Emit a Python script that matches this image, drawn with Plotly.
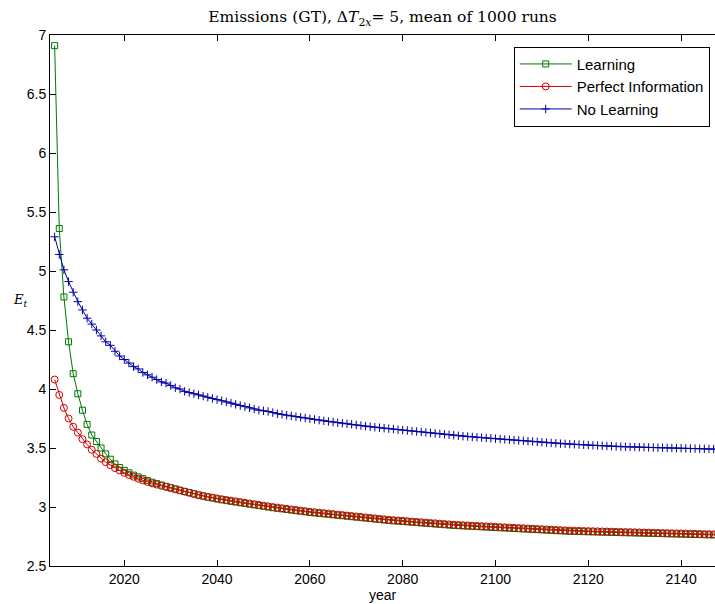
import plotly.graph_objects as go

years = list(range(2005, 2149))

learning = [
    6.91, 5.36, 4.78, 4.40, 4.13,
    3.96, 3.82, 3.70, 3.61, 3.555, 3.50, 3.45, 3.405, 3.365, 3.335,
    3.31, 3.29, 3.27, 3.255, 3.24, 3.225, 3.21, 3.198, 3.186, 3.175,
    3.164, 3.153, 3.142, 3.132, 3.122, 3.112, 3.102, 3.093, 3.084, 3.076,
    3.068, 3.061, 3.054, 3.048, 3.042, 3.036, 3.030, 3.024, 3.018, 3.012,
    3.006, 3.000, 2.994, 2.989, 2.984, 2.979, 2.974, 2.969, 2.964, 2.959,
    2.954, 2.950, 2.946, 2.942, 2.938, 2.934, 2.930, 2.926, 2.922, 2.918,
    2.914, 2.910, 2.906, 2.902, 2.898, 2.894, 2.890, 2.886, 2.883, 2.880,
    2.877, 2.874, 2.871, 2.868, 2.865, 2.862, 2.859, 2.856, 2.853, 2.850,
    2.847, 2.844, 2.842, 2.840, 2.838, 2.836, 2.834, 2.832, 2.830, 2.828,
    2.826, 2.824, 2.822, 2.820, 2.818, 2.816, 2.814, 2.812, 2.810, 2.808,
    2.806, 2.804, 2.802, 2.800, 2.798, 2.796, 2.794, 2.793, 2.792, 2.791,
    2.790, 2.789, 2.788, 2.787, 2.786, 2.785, 2.784, 2.783, 2.782, 2.781,
    2.780, 2.779, 2.778, 2.777, 2.776, 2.775, 2.774, 2.773, 2.772, 2.771,
    2.770, 2.769, 2.768, 2.767, 2.766, 2.765, 2.764, 2.763, 2.762,
]

perfect = [
    4.08, 3.95, 3.84, 3.75, 3.68,
    3.63, 3.575, 3.53, 3.485, 3.45, 3.41, 3.38, 3.355, 3.33, 3.31,
    3.29, 3.272, 3.256, 3.24, 3.226, 3.212, 3.20, 3.19, 3.18, 3.17,
    3.16, 3.15, 3.14, 3.13, 3.12, 3.11, 3.10, 3.093, 3.086, 3.08,
    3.073, 3.066, 3.06, 3.054, 3.048, 3.042, 3.036, 3.03, 3.024, 3.018,
    3.012, 3.006, 3.00, 2.995, 2.99, 2.985, 2.98, 2.975, 2.97, 2.965,
    2.96, 2.956, 2.952, 2.948, 2.944, 2.94, 2.936, 2.932, 2.928, 2.924,
    2.92, 2.916, 2.912, 2.908, 2.904, 2.90, 2.896, 2.892, 2.889, 2.886,
    2.883, 2.88, 2.877, 2.874, 2.871, 2.868, 2.865, 2.862, 2.859, 2.856,
    2.853, 2.85, 2.848, 2.846, 2.844, 2.842, 2.84, 2.838, 2.836, 2.834,
    2.832, 2.83, 2.828, 2.826, 2.824, 2.822, 2.82, 2.818, 2.816, 2.814,
    2.812, 2.81, 2.808, 2.806, 2.804, 2.802, 2.80, 2.799, 2.798, 2.797,
    2.796, 2.795, 2.794, 2.793, 2.792, 2.791, 2.79, 2.789, 2.788, 2.787,
    2.786, 2.785, 2.784, 2.783, 2.782, 2.781, 2.78, 2.779, 2.778, 2.777,
    2.776, 2.775, 2.774, 2.773, 2.772, 2.771, 2.770, 2.769, 2.768,
]

no_learning = [
    5.29, 5.14, 5.01, 4.91, 4.82,
    4.74, 4.67, 4.60, 4.55, 4.50, 4.45, 4.40, 4.37, 4.32, 4.28,
    4.25, 4.22, 4.19, 4.17, 4.14, 4.12, 4.10, 4.08, 4.06, 4.05,
    4.03, 4.01, 4.00, 3.98, 3.97, 3.96, 3.95, 3.94, 3.93, 3.92,
    3.91, 3.90, 3.89, 3.88, 3.87, 3.86, 3.85, 3.84, 3.83, 3.82,
    3.815, 3.81, 3.80, 3.79, 3.785, 3.778, 3.772, 3.766, 3.76, 3.754,
    3.748, 3.742, 3.736, 3.73, 3.725, 3.72, 3.715, 3.71, 3.705, 3.70,
    3.695, 3.69, 3.685, 3.68, 3.676, 3.672, 3.668, 3.664, 3.66, 3.656,
    3.652, 3.648, 3.644, 3.64, 3.636, 3.632, 3.628, 3.624, 3.62, 3.616,
    3.612, 3.608, 3.604, 3.60, 3.597, 3.594, 3.591, 3.588, 3.585, 3.582,
    3.579, 3.576, 3.573, 3.57, 3.567, 3.564, 3.561, 3.558, 3.555, 3.552,
    3.549, 3.546, 3.543, 3.54, 3.537, 3.535, 3.533, 3.531, 3.529, 3.527,
    3.525, 3.523, 3.521, 3.519, 3.517, 3.515, 3.513, 3.511, 3.51, 3.509,
    3.508, 3.507, 3.506, 3.505, 3.504, 3.503, 3.502, 3.501, 3.50, 3.499,
    3.498, 3.497, 3.496, 3.495, 3.494, 3.493, 3.492, 3.491, 3.490,
]

x_ticks = [2020, 2040, 2060, 2080, 2100, 2120, 2140]
y_ticks = [2.5, 3, 3.5, 4, 4.5, 5, 5.5, 6, 6.5, 7]

GREEN = "#007a00"
RED = "#d40000"
BLUE = "#0000a8"

fig = go.Figure()
fig.add_trace(go.Scatter(
    x=years, y=learning, name="Learning", mode="lines+markers",
    line=dict(color=GREEN, width=1),
    marker=dict(symbol="square-open", size=6, color=GREEN, line=dict(width=1, color=GREEN)),
))
fig.add_trace(go.Scatter(
    x=years, y=perfect, name="Perfect Information", mode="lines+markers",
    line=dict(color=RED, width=1),
    marker=dict(symbol="circle-open", size=7, color=RED, line=dict(width=1, color=RED)),
))
fig.add_trace(go.Scatter(
    x=years, y=no_learning, name="No Learning", mode="lines+markers",
    line=dict(color=BLUE, width=1),
    marker=dict(symbol="cross-thin-open", size=6, color=BLUE, line=dict(width=1, color=BLUE)),
))

axis_font = dict(family="Liberation Sans, Arial, sans-serif", size=14, color="black")

fig.update_layout(
    width=715, height=604,
    margin=dict(l=50, r=0, t=35, b=38),
    paper_bgcolor="white", plot_bgcolor="white",
    title=dict(
        text="Emissions (GT), Δ<i>T</i><sub>2<i>x</i></sub>= 5, mean of 1000 runs",
        x=(50 + 715) / 2 / 715, xanchor="center", y=1 - 17 / 604, yanchor="middle",
        font=dict(family="DejaVu Serif, Liberation Serif, serif", size=15.5, color="black"),
    ),
    xaxis=dict(
        range=[2004, 2147.3], tickvals=x_ticks, ticks="inside", ticklen=6,
        tickcolor="black", showline=True, linecolor="black", linewidth=1,
        mirror="ticks", showgrid=False, zeroline=False, tickfont=axis_font,
        title=dict(text="year", font=axis_font, standoff=2),
    ),
    yaxis=dict(
        range=[2.5, 7], tickvals=y_ticks, ticktext=[f"{v:g}" for v in y_ticks],
        ticks="inside", ticklen=6, tickcolor="black", showline=True, linecolor="black",
        linewidth=1, mirror=False, showgrid=False, zeroline=False, tickfont=axis_font,
    ),
    legend=dict(
        x=0.992, xanchor="right", y=0.978, yanchor="top",
        bordercolor="black", borderwidth=1, bgcolor="white",
        font=dict(family="Liberation Sans, Arial, sans-serif", size=15, color="black"),
        tracegroupgap=0, itemwidth=52,
    ),
    showlegend=True,
)

fig.add_annotation(
    text="<i>E</i><sub><i>t</i></sub>", xref="paper", yref="paper",
    x=-0.045, y=0.5, xanchor="center", yanchor="middle", showarrow=False,
    font=dict(family="DejaVu Serif, Liberation Serif, serif", size=13, color="black"),
)

fig.write_html("out.html")
